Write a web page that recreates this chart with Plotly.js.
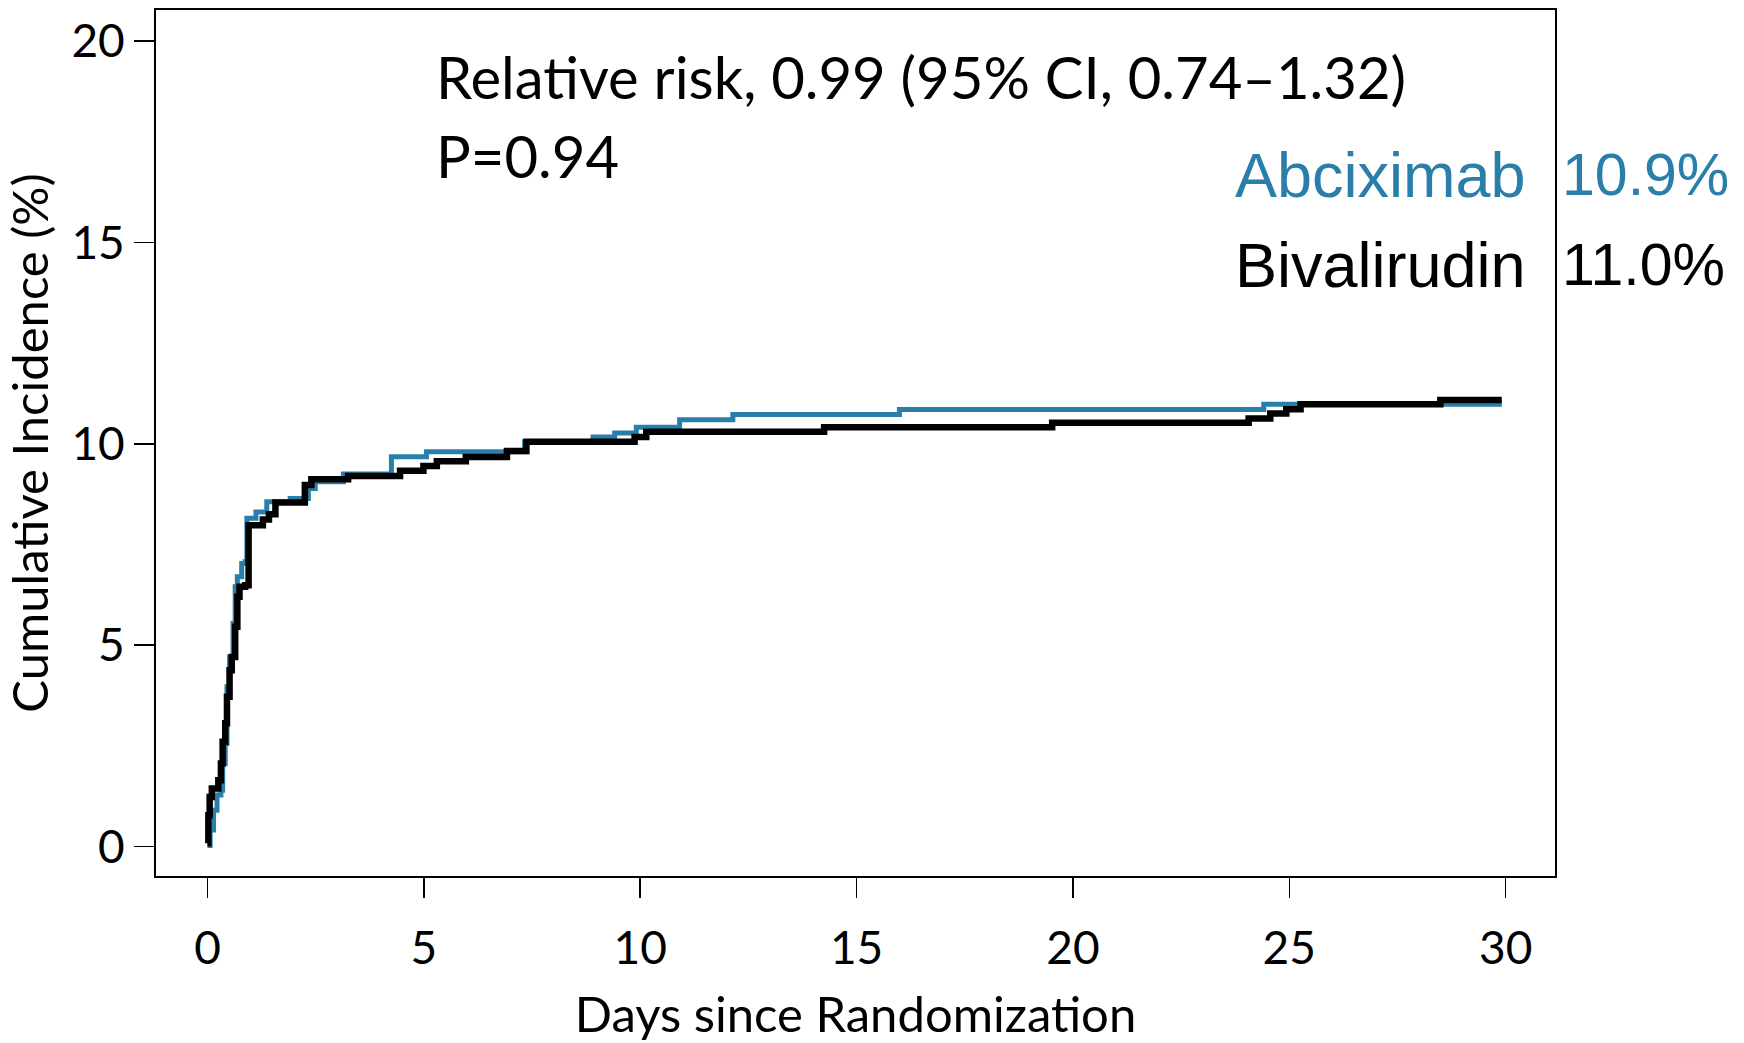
<!DOCTYPE html>
<html>
<head>
<meta charset="utf-8">
<script src="https://cdn.plot.ly/plotly-3.0.1.min.js"></script>
<style>html,body{margin:0;padding:0;background:#fff;}#chart{width:1744px;height:1043px;}</style>
</head>
<body>
<div id="chart"></div>
<script>
// Abciximab (blue) step curve: days and cumulative incidence (%)
const abcDays = [0, 0.06, 0.14, 0.22, 0.31, 0.35, 0.41, 0.45, 0.51, 0.59, 0.64, 0.69, 0.79, 0.87, 0.91, 1.12, 1.37, 1.91, 2.33, 2.49, 3.14, 4.25, 5.06, 7.33, 8.91, 9.41, 9.91, 10.91, 12.14, 15.99, 24.41, 29.91];
const abcVals = [0.03, 0.41, 0.90, 1.28, 1.40, 2.06, 2.56, 3.97, 4.71, 5.54, 6.45, 6.70, 7.03, 7.07, 8.15, 8.31, 8.56, 8.64, 8.89, 9.06, 9.25, 9.68, 9.80, 10.05, 10.17, 10.27, 10.41, 10.60, 10.73, 10.85, 10.98, 10.98];

// Bivalirudin (black) step curve
const bivDays = [0, 0.02, 0.05, 0.10, 0.25, 0.31, 0.35, 0.41, 0.45, 0.51, 0.56, 0.64, 0.69, 0.74, 0.87, 0.95, 1.28, 1.42, 1.57, 2.25, 2.40, 3.25, 4.45, 4.99, 5.30, 5.97, 6.92, 7.37, 9.87, 10.14, 14.25, 19.52, 24.06, 24.56, 24.93, 25.26, 28.49, 29.91];
const bivVals = [0.08, 0.78, 1.23, 1.44, 1.65, 2.06, 2.60, 3.06, 3.72, 4.38, 4.71, 5.46, 6.20, 6.45, 6.49, 7.98, 8.12, 8.25, 8.54, 8.98, 9.12, 9.20, 9.33, 9.45, 9.57, 9.67, 9.82, 10.05, 10.17, 10.30, 10.41, 10.52, 10.63, 10.75, 10.86, 10.98, 11.09, 11.09];

const xTicks = [0, 5, 10, 15, 20, 25, 30];
const yTicks = [0, 5, 10, 15, 20];

const seriesNames = ['Abciximab', 'Bivalirudin'];
const finalRates = ['10.9%', '11.0%'];
const statLines = ['Relative risk, 0.99 (95% CI, 0.74\u20131.32)', 'P=0.94'];

const BLUE = '#2A7FAA';
const FONT = 'Lato, "Open Sans", sans-serif';
const LEGFONT = '"Liberation Sans", Arial, sans-serif';

const traces = [
  {x: abcDays, y: abcVals, type: 'scatter', mode: 'lines', line: {shape: 'hv', color: BLUE, width: 5}, name: seriesNames[0], hoverinfo: 'skip'},
  {x: bivDays, y: bivVals, type: 'scatter', mode: 'lines', line: {shape: 'hv', color: '#000', width: 6.5}, name: seriesNames[1], hoverinfo: 'skip'}
];

const layout = {
  width: 1744, height: 1043,
  margin: {l: 156, r: 189, t: 10, b: 167},
  paper_bgcolor: '#fff', plot_bgcolor: '#fff',
  showlegend: false,
  font: {family: FONT, color: '#000'},
  xaxis: {
    range: [-1.19, 31.14], tickvals: xTicks, ticktext: xTicks.map(String),
    ticks: 'outside', ticklen: 20, tickwidth: 1.5, tickcolor: '#000',
    showgrid: false, zeroline: false, showline: true, linecolor: '#000', linewidth: 2, mirror: true,
    tickfont: {size: 46, family: FONT}, ticklabelstandoff: 11,
    title: {text: 'Days since Randomization', font: {size: 49, family: FONT}, standoff: 24}
  },
  yaxis: {
    range: [-0.73, 20.77], tickvals: yTicks, ticktext: yTicks.map(String),
    ticks: 'outside', ticklen: 20, tickwidth: 1.5, tickcolor: '#000',
    showgrid: false, zeroline: false, showline: true, linecolor: '#000', linewidth: 2, mirror: true,
    tickfont: {size: 46, family: FONT}, ticklabelstandoff: 0,
    title: {text: 'Cumulative Incidence (%)', font: {size: 49, family: FONT}, standoff: 16}
  },
  annotations: [
    {xref: 'paper', yref: 'paper', x: (434 - 156) / 1399, y: 1 - (77 - 10) / 866, xanchor: 'left', yanchor: 'middle', showarrow: false, text: statLines[0], font: {size: 58, family: FONT, color: '#000'}},
    {xref: 'paper', yref: 'paper', x: (434 - 156) / 1399, y: 1 - (155 - 10) / 866, xanchor: 'left', yanchor: 'middle', showarrow: false, text: statLines[1], font: {size: 58, family: FONT, color: '#000'}},
    {xref: 'paper', yref: 'paper', x: (1528 - 156) / 1399, y: 1 - (175 - 10) / 866, xanchor: 'right', yanchor: 'middle', showarrow: false, text: seriesNames[0], font: {size: 63, family: LEGFONT, color: BLUE}},
    {xref: 'paper', yref: 'paper', x: (1560 - 156) / 1399, y: 1 - (175 - 10) / 866, xanchor: 'left', yanchor: 'middle', showarrow: false, text: finalRates[0], font: {size: 59, family: LEGFONT, color: BLUE}},
    {xref: 'paper', yref: 'paper', x: (1528 - 156) / 1399, y: 1 - (265 - 10) / 866, xanchor: 'right', yanchor: 'middle', showarrow: false, text: seriesNames[1], font: {size: 63, family: LEGFONT, color: '#000'}},
    {xref: 'paper', yref: 'paper', x: (1560 - 156) / 1399, y: 1 - (265 - 10) / 866, xanchor: 'left', yanchor: 'middle', showarrow: false, text: finalRates[1], font: {size: 59, family: LEGFONT, color: '#000'}}
  ]
};

Plotly.newPlot('chart', traces, layout, {staticPlot: true, displayModeBar: false});
</script>
</body>
</html>
